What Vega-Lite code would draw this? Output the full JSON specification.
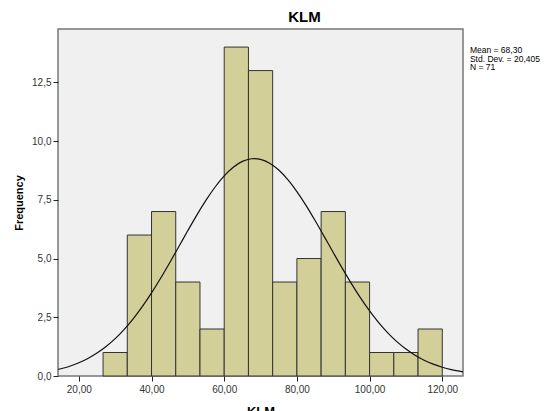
{
  "$schema": "https://vega.github.io/schema/vega-lite/v6.json",
  "autosize": {"type": "none"},
  "padding": {"left": 58, "top": 29, "right": 95, "bottom": 35},
  "width": 405,
  "height": 347,
  "background": "white",
  "config": {
    "font": "Liberation Sans",
    "view": {"fill": "#f0f0f0", "stroke": "#777777", "strokeWidth": 1.5},
    "axis": {
      "grid": false,
      "domain": false,
      "tickColor": "#222222",
      "tickSize": 5,
      "labelColor": "#333333",
      "labelFont": "Liberation Sans",
      "labelFontSize": 10,
      "titleFont": "Liberation Sans",
      "titleFontWeight": "bold",
      "titleColor": "#000000"
    }
  },
  "title": {
    "text": "KLM",
    "font": "Liberation Sans",
    "fontSize": 15,
    "fontWeight": "bold",
    "color": "#000000",
    "anchor": "middle",
    "offset": 4,
    "dx": 44
  },
  "datasets": {
    "bins": [
      {"start": 26.667, "end": 33.333, "count": 1},
      {"start": 33.333, "end": 40.0, "count": 6},
      {"start": 40.0, "end": 46.667, "count": 7},
      {"start": 46.667, "end": 53.333, "count": 4},
      {"start": 53.333, "end": 60.0, "count": 2},
      {"start": 60.0, "end": 66.667, "count": 14},
      {"start": 66.667, "end": 73.333, "count": 13},
      {"start": 73.333, "end": 80.0, "count": 4},
      {"start": 80.0, "end": 86.667, "count": 5},
      {"start": 86.667, "end": 93.333, "count": 7},
      {"start": 93.333, "end": 100.0, "count": 4},
      {"start": 100.0, "end": 106.667, "count": 1},
      {"start": 106.667, "end": 113.333, "count": 1},
      {"start": 113.333, "end": 120.0, "count": 2}
    ],
    "curve": [
      {"x": 14.27, "y": 0.278},
      {"x": 17.5, "y": 0.417},
      {"x": 20, "y": 0.562},
      {"x": 22.5, "y": 0.746},
      {"x": 25, "y": 0.974},
      {"x": 27.5, "y": 1.254},
      {"x": 30, "y": 1.590},
      {"x": 32.5, "y": 1.986},
      {"x": 35, "y": 2.444},
      {"x": 37.5, "y": 2.962},
      {"x": 40, "y": 3.537},
      {"x": 42.5, "y": 4.161},
      {"x": 45, "y": 4.822},
      {"x": 47.5, "y": 5.504},
      {"x": 50, "y": 6.190},
      {"x": 52.5, "y": 6.857},
      {"x": 55, "y": 7.483},
      {"x": 57.5, "y": 8.045},
      {"x": 60, "y": 8.519},
      {"x": 62.5, "y": 8.888},
      {"x": 65, "y": 9.134},
      {"x": 67.5, "y": 9.247},
      {"x": 68.3, "y": 9.254},
      {"x": 70, "y": 9.222},
      {"x": 72.5, "y": 9.060},
      {"x": 75, "y": 8.768},
      {"x": 77.5, "y": 8.360},
      {"x": 80, "y": 7.851},
      {"x": 82.5, "y": 7.264},
      {"x": 85, "y": 6.620},
      {"x": 87.5, "y": 5.944},
      {"x": 90, "y": 5.257},
      {"x": 92.5, "y": 4.580},
      {"x": 95, "y": 3.931},
      {"x": 97.5, "y": 3.324},
      {"x": 100, "y": 2.769},
      {"x": 102.5, "y": 2.271},
      {"x": 105, "y": 1.836},
      {"x": 107.5, "y": 1.462},
      {"x": 110, "y": 1.147},
      {"x": 112.5, "y": 0.886},
      {"x": 115, "y": 0.674},
      {"x": 117.5, "y": 0.506},
      {"x": 120, "y": 0.374},
      {"x": 122.5, "y": 0.272},
      {"x": 125.7, "y": 0.177}
    ],
    "stats": [
      {"x": 127.6, "y": 14.04, "label": ["Mean = 68,30", "Std. Dev. = 20,405", "N = 71"]}
    ]
  },
  "layer": [
    {
      "data": {"name": "bins"},
      "mark": {"type": "bar", "fill": "#d3cf98", "stroke": "#333333", "strokeWidth": 1, "opacity": 1},
      "encoding": {
        "x": {
          "field": "start",
          "type": "quantitative",
          "scale": {"domain": [14.27, 125.7], "nice": false, "zero": false},
          "axis": {
            "title": "KLM",
            "titleFontSize": 13,
            "titlePadding": 11,
            "values": [20, 40, 60, 80, 100, 120],
            "labelExpr": "replace(format(datum.value, '.2f'), '.', ',')",
            "labelPadding": 3
          }
        },
        "x2": {"field": "end"},
        "y": {
          "field": "count",
          "type": "quantitative",
          "stack": null,
          "scale": {"domain": [0, 14.77], "nice": false},
          "axis": {
            "title": "Frequency",
            "titleFontSize": 11,
            "titlePadding": 7,
            "values": [0, 2.5, 5, 7.5, 10, 12.5],
            "labelExpr": "replace(format(datum.value, '.1f'), '.', ',')",
            "labelPadding": 2
          }
        },
        "y2": {"datum": 0}
      }
    },
    {
      "data": {"name": "curve"},
      "mark": {"type": "line", "color": "#111111", "strokeWidth": 1.2, "interpolate": "monotone"},
      "encoding": {
        "x": {"field": "x", "type": "quantitative"},
        "y": {"field": "y", "type": "quantitative"}
      }
    },
    {
      "data": {"name": "stats"},
      "mark": {"type": "text", "align": "left", "baseline": "top", "fontSize": 8.5, "lineHeight": 8.5, "color": "#000000", "font": "Liberation Sans"},
      "encoding": {
        "x": {"field": "x", "type": "quantitative"},
        "y": {"field": "y", "type": "quantitative"},
        "text": {"field": "label"}
      }
    }
  ]
}
